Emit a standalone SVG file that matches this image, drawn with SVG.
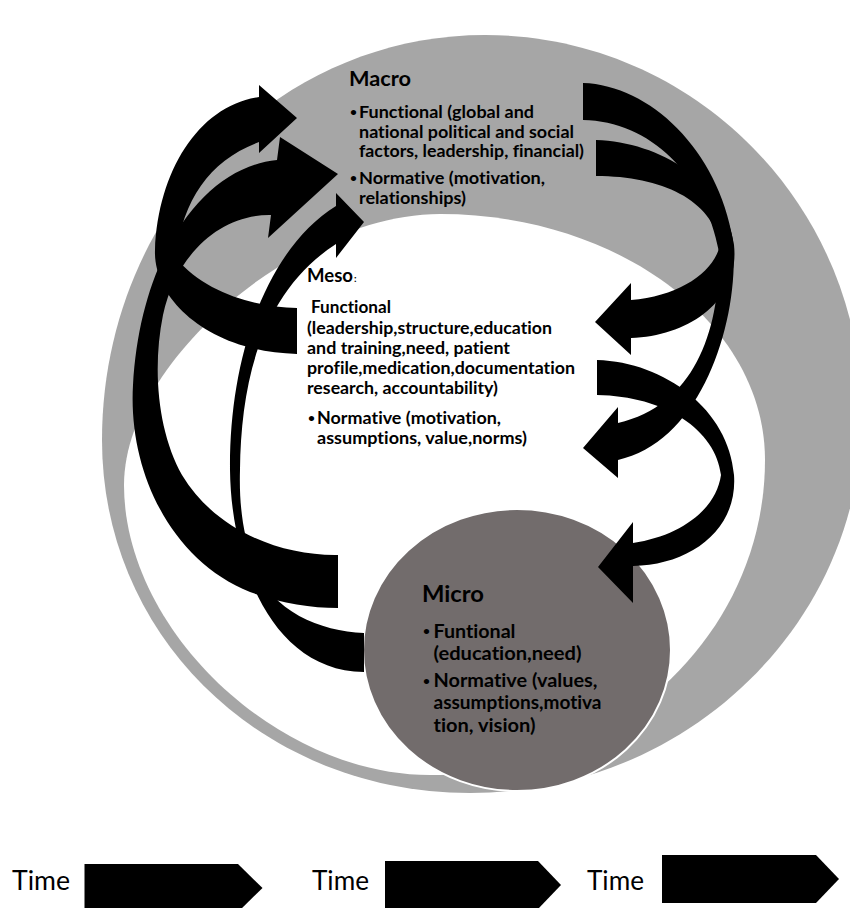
<svg xmlns="http://www.w3.org/2000/svg" width="850" height="908" viewBox="0 0 850 908">
<style>
text{font-variant-ligatures:none;font-feature-settings:"liga" 0,"clig" 0}
.t{font-family:Lato,"Liberation Sans",sans-serif;font-weight:700;fill:#000}
.tm{font-size:17.5px}
.te{font-size:17.3px}
.ti{font-size:19.2px}
.b{font-family:Lato,"Liberation Sans",sans-serif;font-weight:700;font-size:12px;fill:#000}
.time{font-family:Lato,"Liberation Sans",sans-serif;font-weight:400;font-size:26px;fill:#000}
.arr{fill:#000}
</style>
<rect width="850" height="908" fill="#fff"/>
<g id="macro">
  <path d="M485,35 C693,35 862,205 862,415 C862,624 686,793 470,793 C264,793 102,638 102,440 C102,216 273,35 485,35 Z" fill="#a6a6a6"/>
  <text class="t" x="349" y="86" font-size="21" textLength="62" lengthAdjust="spacingAndGlyphs">Macro</text>
  <text class="b" x="350" y="116">•</text>
  <text class="t tm" x="359" y="118" textLength="175" lengthAdjust="spacingAndGlyphs">Functional (global and</text>
  <text class="t tm" x="359" y="137.5" textLength="215" lengthAdjust="spacingAndGlyphs">national political and social</text>
  <text class="t tm" x="359" y="157" textLength="225" lengthAdjust="spacingAndGlyphs">factors, leadership, financial)</text>
  <text class="b" x="350" y="182">•</text>
  <text class="t tm" x="359" y="184" textLength="186" lengthAdjust="spacingAndGlyphs">Normative (motivation,</text>
  <text class="t tm" x="359" y="203.5" textLength="107" lengthAdjust="spacingAndGlyphs">relationships)</text>
</g>
<g id="meso">
  <path d="M440,214 C619,214 765,324 765,460 C765,634 615,775 430,775 C277,775 124,630 124,485 C124,360 300,214 440,214 Z" fill="#fff"/>
  <text class="t" x="307" y="282" font-size="19.5" textLength="46" lengthAdjust="spacingAndGlyphs">Meso</text>
  <text class="t" x="354" y="282" font-size="10">:</text>
  <text class="t te" x="311" y="313" textLength="80" lengthAdjust="spacingAndGlyphs">Functional</text>
  <text class="t te" x="307" y="333.5" textLength="245" lengthAdjust="spacingAndGlyphs">(leadership,structure,education</text>
  <text class="t te" x="307" y="353.5" textLength="203" lengthAdjust="spacingAndGlyphs">and training,need, patient</text>
  <text class="t te" x="307" y="374" textLength="268" lengthAdjust="spacingAndGlyphs">profile,medication,documentation</text>
  <text class="t te" x="307" y="394" textLength="191" lengthAdjust="spacingAndGlyphs">research, accountability)</text>
  <text class="b" x="308" y="422">•</text>
  <text class="t te" x="317" y="424" textLength="184" lengthAdjust="spacingAndGlyphs">Normative (motivation,</text>
  <text class="t te" x="317" y="444" textLength="210" lengthAdjust="spacingAndGlyphs">assumptions, value,norms)</text>
</g>
<g id="micro">
  <ellipse cx="517" cy="650" rx="154" ry="141" fill="#726c6c" stroke="#fff" stroke-width="2"/>
  <text class="t" x="422" y="602" font-size="23" textLength="62" lengthAdjust="spacingAndGlyphs">Micro</text>
  <text class="b" x="423" y="635" font-size="13">•</text>
  <text class="t ti" x="433.5" y="637.5" textLength="82" lengthAdjust="spacingAndGlyphs">Funtional</text>
  <text class="t ti" x="433.5" y="659.5" textLength="148" lengthAdjust="spacingAndGlyphs">(education,need)</text>
  <text class="b" x="423" y="684.5" font-size="13">•</text>
  <text class="t ti" x="433.5" y="687" textLength="164" lengthAdjust="spacingAndGlyphs">Normative (values,</text>
  <text class="t ti" x="433.5" y="708.5" textLength="168" lengthAdjust="spacingAndGlyphs">assumptions,motiva</text>
  <text class="t ti" x="433.5" y="731.5" textLength="102" lengthAdjust="spacingAndGlyphs">tion, vision)</text>
</g>
<g id="connectors">
  <path class="arr" d="M364,633 C320,631 272,612 254,565 C243,535 239,505 240,470 C241,380 262,292 336,244 L336,258 L364,222 L336,193 L336,206 C265,250 229,360 230,470 C231,560 270,671 364,672 Z"/>
  <path class="arr" d="M338,555 C280,556 215,530 182,475 C158,432 152,370 163,315 C176,255 220,214 271,215 L268,238 L338,174 L280,137 L277,160 C200,168 140,260 133,385 C128,470 170,560 250,592 C280,603 310,608 338,608 Z"/>
  <path class="arr" d="M297,308 C255,307 205,293 176,258 C182,200 210,160 259,142 L259,153 L297,118 L259,85 L259,97 C200,105 158,170 155,250 C153,300 210,352 297,354 Z"/>
  <path class="arr" d="M583,83 C650,85 718,150 733,240 C740,320 702,442 618,460 L618,478 L583,448 L618,407 L618,423 C695,405 720,330 719,252 C705,175 650,121 583,120 Z"/>
  <path class="arr" d="M596,140 C660,142 726,182 734,245 C740,300 690,336 631,338 L631,355 L595,322 L631,283 L631,300 C680,296 714,272 720,245 C712,200 662,176 596,176 Z"/>
  <path class="arr" d="M597,360 C665,362 729,410 734,475 C738,530 690,565 633,566 L633,603 L598,567 L633,522 L633,543 C680,536 716,510 721,475 C716,430 665,396 597,395 Z"/>
</g>
<g id="timeline">
  <text class="time" x="12" y="890" textLength="58" lengthAdjust="spacingAndGlyphs">Time</text>
  <path class="arr" d="M84.5,864 L238,864 L262.5,888 L238,912 L84.5,912 Z"/>
  <text class="time" x="312" y="890" textLength="57" lengthAdjust="spacingAndGlyphs">Time</text>
  <path class="arr" d="M385,861 L538,861 L561,885 L538,909 L385,909 Z"/>
  <text class="time" x="587" y="890" textLength="57" lengthAdjust="spacingAndGlyphs">Time</text>
  <path class="arr" d="M662,855 L816,855 L839,879 L816,903 L662,903 Z"/>
</g>
</svg>
